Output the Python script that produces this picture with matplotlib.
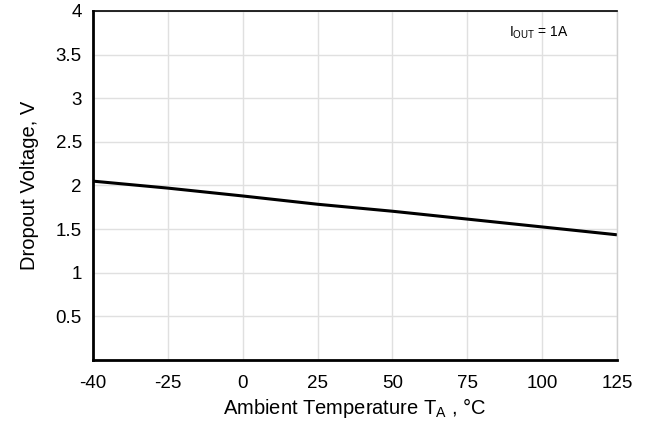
import numpy as np
import matplotlib
matplotlib.use("Agg")
import matplotlib.pyplot as plt

plt.rcParams['font.family'] = ['Liberation Sans', 'DejaVu Sans']

# dropout voltage vs ambient temperature (IOUT = 1A)
temp = [-50, -25, 0, 25, 50, 75, 100, 125]
vdrop = [2.05, 1.97, 1.88, 1.785, 1.705, 1.615, 1.525, 1.435]

xticks = [-50, -25, 0, 25, 50, 75, 100, 125]
xticklabels = ['-40', '-25', '0', '25', '50', '75', '100', '125']
yticks = [0.5, 1, 1.5, 2, 2.5, 3, 3.5, 4]
yticklabels = ['0.5', '1', '1.5', '2', '2.5', '3', '3.5', '4']

fig = plt.figure(figsize=(6.52, 4.21), dpi=100)
ax = fig.add_axes([0.1426, 0.1449, 0.8037, 0.8290])

ax.plot(temp, vdrop, color='black', linewidth=2.2, solid_capstyle='butt')

ax.set_xlim(-50, 125)
ax.set_ylim(0, 4)
ax.set_xticks(xticks)
ax.set_xticklabels(xticklabels)
ax.set_yticks(yticks)
ax.set_yticklabels(yticklabels)
ax.tick_params(length=0, labelsize=13.5)
ax.tick_params(axis='x', pad=11)
ax.tick_params(axis='y', pad=8)
ax.grid(True, color='#e0e0e0', linewidth=1)
ax.set_axisbelow(True)

ax.spines['left'].set_linewidth(2)
ax.spines['bottom'].set_linewidth(2)
ax.spines['top'].set_linewidth(1.2)
ax.spines['right'].set_linewidth(1)
ax.spines['right'].set_color('#d0d0d0')

ax.set_xlabel('Ambient Temperature T$_\\mathregular{A}$ , °C', fontsize=14.5, labelpad=3)
ax.set_ylabel('Dropout Voltage, V', fontsize=14.5, labelpad=12)

ax.text(89, 3.75, 'I$_\\mathregular{OUT}$ = 1A', fontsize=10, va='center', ha='left')

fig.savefig('out.png', dpi=100)
